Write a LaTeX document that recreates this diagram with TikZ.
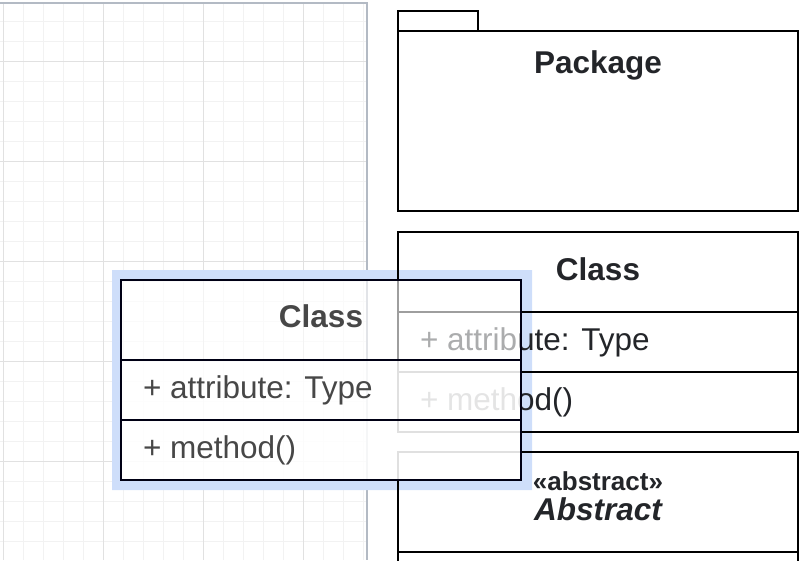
\documentclass[tikz,border=0pt]{standalone}
\usepackage{fontspec}
\setmainfont{Liberation Sans}
\definecolor{gridminor}{HTML}{F2F2F2}
\definecolor{gridmajor}{HTML}{E1E1E1}
\definecolor{gridborder}{HTML}{B3BAC4}
\definecolor{selblue}{HTML}{CEDEFA}
\definecolor{txtdark}{HTML}{232529}
\definecolor{txtdrag}{HTML}{474747}
\begin{document}
\begin{tikzpicture}[x=1pt,y=-1pt,
  shapeline/.style={draw=black,line width=2pt},
  dragline/.style={draw=black!92!blue,line width=2pt},
  lbl/.style={inner sep=0pt,outer sep=0pt,text=txtdark,font=\fontsize{31.5}{36}\selectfont},
  lblbold/.style={lbl,font=\fontsize{31.5}{36}\selectfont\bfseries},
  lblstereo/.style={lbl,font=\fontsize{26}{30}\selectfont\bfseries},
  lblabs/.style={lbl,font=\fontsize{31.5}{36}\selectfont\bfseries\itshape},
  draglbl/.style={lbl,text=txtdrag},
  draglblbold/.style={lblbold,text=txtdrag}]
\useasboundingbox (0,0) rectangle (806,560);
\clip (0,0) rectangle (806,560);
% grid
\foreach \x in {3,23,...,363} \draw[gridminor,line width=1pt] (\x,3) -- (\x,560);
\foreach \y in {21,41,...,561} \draw[gridminor,line width=1pt] (0,\y) -- (367,\y);
\foreach \x in {3,103,203,303} \draw[gridmajor,line width=1pt] (\x,3) -- (\x,560);
\foreach \y in {61,161,261,361,461} \draw[gridmajor,line width=1pt] (0,\y) -- (367,\y);
\draw[gridborder,line width=1.5pt] (0,3) -- (367,3) -- (367,560);
% selection frame
\fill[selblue,even odd rule] (112,270) rectangle (532,490) (121,280) rectangle (521,480);
% package
\draw[shapeline] (398,11) rectangle (478,31);
\draw[shapeline] (398,31) rectangle (798,211);
\node[lblbold,anchor=base] (pkg) at (598,73) {Package};
% class
\draw[shapeline] (398,232) rectangle (798,432);
\draw[shapeline] (398,312) -- (798,312);
\draw[shapeline] (398,372) -- (798,372);
\node[lblbold,anchor=base] (cls) at (598,280) {Class};
\node[lbl,anchor=base west] (clsattr) at (420,350) {+ attribute: Type};
\node[lbl,anchor=base west] (clsmeth) at (420,410) {+ method()};
% abstract
\draw[shapeline] (398,565) -- (398,452) -- (798,452) -- (798,565);
\draw[shapeline] (398,552) -- (798,552);
\node[lblstereo,anchor=base] (absst) at (598,490) {«abstract»};
\node[lblabs,anchor=base] (absname) at (598,520) {Abstract};
% dragged preview
\fill[white,opacity=0.62] (121,280) rectangle (521,360);
\fill[white,opacity=0.88] (121,360) rectangle (521,480);
\draw[dragline] (121,280) rectangle (521,480);
\draw[dragline] (121,360) -- (521,360);
\draw[dragline] (121,420) -- (521,420);
\node[draglblbold,anchor=base] (dcls) at (321,327) {Class};
\node[draglbl,anchor=base west] (dattr) at (143,398) {+ attribute: Type};
\node[draglbl,anchor=base west] (dmeth) at (143,458) {+ method()};
\end{tikzpicture}
\end{document}
